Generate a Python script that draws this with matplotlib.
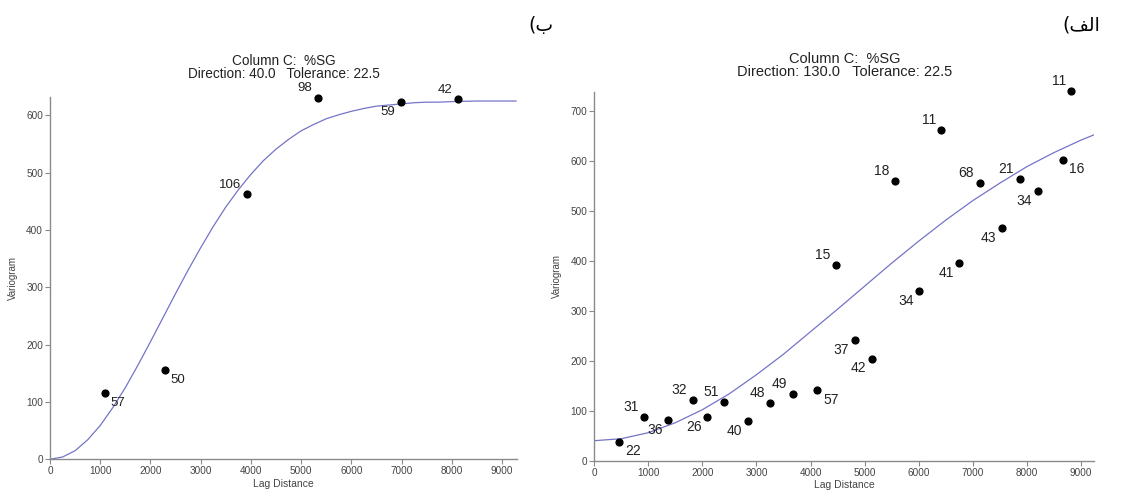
import matplotlib
matplotlib.use("Agg")
import matplotlib.pyplot as plt

# ---- data ----
# panel b (left): Direction 40.0
lag_b = [1098, 2282, 3923, 5328, 6983, 8124]
vario_b = [116, 155, 462, 631, 623, 628]
pairs_b = [57, 50, 106, 98, 59, 42]
# model curve
curve_h_b = [0, 250, 500, 750, 1000, 1250, 1500, 1750, 2000, 2250, 2500,
             2750, 3000, 3250, 3500, 3750, 4000, 4250, 4500, 4750, 5000,
             5250, 5500, 5750, 6000, 6250, 6500, 6750, 7000, 7250, 7500,
             7750, 8000, 8500, 9000, 9280]
curve_v_b = [0, 4, 15, 34, 59, 90, 125, 164, 205, 247, 289,
             330, 369, 406, 440, 470, 497, 521, 541, 558, 573,
             584, 594, 601, 607, 612, 616, 618, 620, 622, 623,
             623, 624, 625, 625, 625]

# panel alef (right): Direction 130.0
lag_a = [463, 926, 1370, 1822, 2087, 2407, 2840, 3254, 3667, 4128,
         4470, 4815, 5137, 5563, 6013, 6420, 6754, 7130, 7544, 7870,
         8204, 8674, 8828]
vario_a = [38, 87, 81, 122, 87, 118, 79, 115, 133, 141,
           391, 241, 204, 560, 339, 662, 395, 555, 465, 563,
           539, 602, 740]
pairs_a = [22, 31, 36, 32, 26, 51, 40, 48, 49, 57,
           15, 37, 42, 18, 34, 11, 41, 68, 43, 21,
           34, 16, 11]
curve_h_a = [0, 500, 1000, 1500, 2000, 2500, 3000, 3500, 4000, 4500, 5000,
             5500, 6000, 6500, 7000, 7500, 8000, 8500, 9000, 9250]
curve_v_a = [40, 44, 56, 76, 102, 134, 172, 213, 258, 303, 349,
             395, 439, 481, 520, 555, 588, 616, 641, 652]

# label placement (ul = up-left, dl = down-left, dr = down-right)
place_b = ["dr", "dr", "ul", "ul", "dl", "ul"]
place_a = ["dr", "ul", "dl", "ul", "dl", "ul", "dl", "ul", "ul", "dr",
           "ul", "dl", "dl", "ul", "dl", "ul", "dl", "ul", "dl", "ul",
           "dl", "dr", "ul"]

W, H = 1123, 491
fig = plt.figure(figsize=(W / 100, H / 100), dpi=100)
plt.rcParams['font.family'] = ['Liberation Sans', 'DejaVu Sans']

curve_col = "#7474c8"
axis_col = "#8a8a8a"


def draw_panel(rect, lag, vario, pairs, place, ch, cv, xmax, ymax, yticks,
               title2, fs_lab, fs_title, tpad):
    ax = fig.add_axes(rect)
    ax.plot(ch, cv, color=curve_col, lw=0.9, zorder=2)
    ax.scatter(lag, vario, s=24, color="black", zorder=3, clip_on=False)
    for x, y, n, p in zip(lag, vario, pairs, place):
        dx = -4 if p[1] == "l" else 4
        dy = 7 if p[0] == "u" else -7
        ax.annotate(str(n), (x, y), xytext=(dx, dy), textcoords="offset points",
                    ha="right" if dx < 0 else "left", va="center",
                    fontsize=fs_lab, color="#222222", annotation_clip=False)
    ax.set_xlim(0, xmax)
    ax.set_ylim(0, ymax)
    ax.set_xticks(range(0, 9001, 1000))
    ax.set_yticks(yticks)
    for s in ["top", "right"]:
        ax.spines[s].set_visible(False)
    for s in ["left", "bottom"]:
        ax.spines[s].set_color(axis_col)
        ax.spines[s].set_linewidth(1.0)
    ax.tick_params(direction="out", length=3.5, width=0.8, color=axis_col,
                   labelsize=7.2, labelcolor="#444444", pad=1.5)
    ax.set_xlabel("Lag Distance", fontsize=7.5, color="#444444", labelpad=2)
    ax.set_ylabel("Variogram", fontsize=7, color="#444444", labelpad=6)
    ax.set_title("Column C:  %SG\n" + title2, fontsize=fs_title,
                 color="#222222", linespacing=0.95, pad=tpad)
    return ax


# left panel (b)
draw_panel([50 / W, 1 - 459.3 / H, 467 / W, (459.3 - 97) / H],
           lag_b, vario_b, pairs_b, place_b, curve_h_b, curve_v_b,
           9300, 632, range(0, 601, 100),
           "Direction: 40.0   Tolerance: 22.5", 9.5, 9.8, 13.5)

# right panel (alef)
draw_panel([594.3 / W, 1 - 460.7 / H, 500 / W, (460.7 - 91.7) / H],
           lag_a, vario_a, pairs_a, place_a, curve_h_a, curve_v_a,
           9250, 738, range(0, 701, 100),
           "Direction: 130.0   Tolerance: 22.5", 10, 10.5, 11)

# panel letters (Persian, visual order)
fig.text(528 / W, 1 - 25 / H, "(\u0628", fontsize=13.5, family="DejaVu Sans",
         ha="left", va="center")
fig.text(1062 / W, 1 - 25 / H, "(\ufed2\ufedf\u0627", fontsize=13.5,
         family="DejaVu Sans", ha="left", va="center")

fig.savefig("out.png", dpi=100)
